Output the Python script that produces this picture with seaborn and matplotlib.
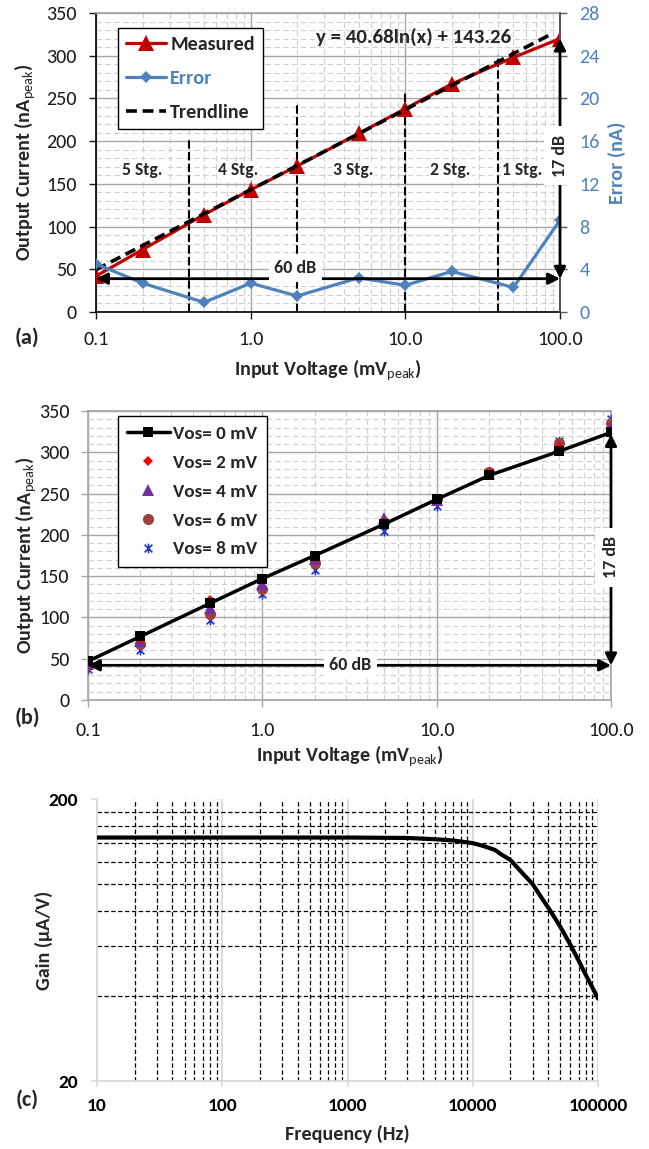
import matplotlib
matplotlib.use("Agg")
import matplotlib.pyplot as plt
from matplotlib.path import Path
from matplotlib.ticker import FixedLocator, LogLocator, MultipleLocator, NullFormatter
from matplotlib.lines import Line2D
import seaborn as sns

# ---- (a) measured output current / error vs input voltage ----
vin = [0.1, 0.2, 0.5, 1, 2, 5, 10, 20, 50, 100]
measured = [42, 73, 114, 143, 171, 209, 238, 267, 298, 320]
error = [4.5, 2.7, 0.9, 2.7, 1.5, 3.2, 2.5, 3.8, 2.3, 8.6]
trend_x = [0.1, 90]
trend_y = [49.6, 326.3]
stage_x = [0.4, 2, 10, 40]
stage_top = [201, 244, 257, 301]
stage_labels = ["5 Stg.", "4 Stg.", "3 Stg.", "2 Stg.", "1 Stg."]
stage_label_x = [0.2, 0.83, 4.6, 19.5, 57]

# ---- (b) output current for several offset voltages ----
vos_labels = ["Vos= 0 mV", "Vos= 2 mV", "Vos= 4 mV", "Vos= 6 mV", "Vos= 8 mV"]
vos0 = [47, 77, 117, 147, 175, 213, 243, 272, 301, 324]
vos2 = [45, 74, 121, 145, 172, 216, 244, 275, 306, 326]
vos4 = [44, 72, 112, 141, 171, 220, 242, 274, 308, 330]
vos6 = [42, 68, 104, 135, 166, 215, 243, 276, 311, 336]
vos8 = [37, 60, 97, 128, 158, 205, 235, 276, 314, 340]

# ---- (c) frequency response ----
freq = [10, 100, 1000, 3000, 5000, 7000, 10000, 12000, 15000, 17000, 20000,
        25000, 30000, 35000, 40000, 50000, 60000, 70000, 80000, 90000, 100000]
gain = [146, 146, 146, 145.5, 144, 142.5, 139.5, 136.5, 132, 127, 121.5,
        109, 100, 90, 82.5, 70.5, 61, 53.5, 47.5, 43, 39.2]

x_ticks = [0.1, 1, 10, 100]
x_ticklabels = ["0.1", "1.0", "10.0", "100.0"]
f_ticks = [10, 100, 1000, 10000, 100000]
f_ticklabels = ["10", "100", "1000", "10000", "100000"]

sns.set_theme(style="white")
plt.rcParams["font.family"] = ["Carlito", "Lato", "DejaVu Sans"]
plt.rcParams["mathtext.fontset"] = "custom"
plt.rcParams["mathtext.rm"] = "Carlito"
plt.rcParams["mathtext.bf"] = "Carlito:bold"

BLUE = "#4F81BD"
DARKRED = "#C00000"
GRID_MAJOR = "#A6A6A6"
GRID_MINOR = "#CFCFCF"
TICK_FS = 14.5
LABEL_FS = 14.5

W, H = 649, 1149
fig = plt.figure(figsize=(W / 100, H / 100), dpi=100)


def px_axes(left, right, top, bottom):
    return fig.add_axes([left / W, 1 - bottom / H, (right - left) / W, (bottom - top) / H])


ax_a = px_axes(96, 560, 13, 312)
ax_b = px_axes(88, 611, 411, 700)
ax_c = px_axes(97, 598, 799, 1081)


def excel_grid(ax):
    ax.set_xscale("log")
    ax.set_xlim(0.1, 100)
    ax.set_ylim(0, 350)
    ax.set_xticks(x_ticks)
    ax.set_xticklabels(x_ticklabels)
    ax.set_yticks(range(0, 351, 50))
    ax.xaxis.set_minor_locator(LogLocator(base=10, subs=range(2, 10)))
    ax.xaxis.set_minor_formatter(NullFormatter())
    ax.yaxis.set_minor_locator(MultipleLocator(10))
    ax.grid(which="major", color=GRID_MAJOR, lw=1, ls="-")
    ax.grid(which="minor", color=GRID_MINOR, lw=0.8, ls=(0, (5, 3)))
    ax.set_axisbelow(True)
    ax.tick_params(which="minor", length=0)
    ax.tick_params(which="major", direction="out", length=5, width=1,
                   labelsize=TICK_FS, colors="#1a1a1a", left=True, bottom=True)


def double_arrow(target, data_ax, start, end):
    # drawn on `target` but placed in the data coordinates of `data_ax`
    target.annotate("", xy=end, xytext=start, xycoords=data_ax.transData,
                    textcoords=data_ax.transData,
                    arrowprops=dict(arrowstyle="<|-|>", color="black", lw=2,
                                    mutation_scale=17, shrinkA=0, shrinkB=0),
                    zorder=6)


def boxed(target, data_ax, x, y, s, rotation=0, pad=3):
    target.text(x, y, s, transform=data_ax.transData, ha="center", va="center",
                fontsize=13, fontweight="bold", rotation=rotation, zorder=7,
                bbox=dict(facecolor="white", edgecolor="none", pad=pad))


# ================= (a) =================
ax = ax_a
excel_grid(ax)
ax.tick_params(axis="x", pad=8.5)
ax.tick_params(axis="y", pad=9)
for sp in ["left", "bottom"]:
    ax.spines[sp].set_color("black")
    ax.spines[sp].set_linewidth(1.2)
ax.spines["top"].set_color(GRID_MAJOR)

ax2 = ax.twinx()
ax2.set_ylim(0, 28)
ax2.set_yticks(range(0, 29, 4))
ax2.tick_params(axis="y", direction="out", length=5, width=1, labelsize=TICK_FS,
                colors=BLUE, pad=9, right=True)
ax2.tick_params(axis="y", color="#595959")
ax2.spines["right"].set_color("#595959")
for sp in ["left", "bottom", "top"]:
    ax2.spines[sp].set_visible(False)

for x0, top in zip(stage_x, stage_top):
    ax.vlines(x0, 0, top, colors="black", lw=1.5, linestyles=(0, (4, 1.6)), zorder=2)
for lx, lab in zip(stage_label_x, stage_labels):
    ax.text(lx, 166, lab, ha="center", va="center", fontsize=12.7,
            fontweight="bold", zorder=3,
            bbox=dict(facecolor="white", edgecolor="none", pad=1))

sns.lineplot(x=trend_x, y=trend_y, ax=ax, color="black", lw=2.6,
             linestyle=(0, (3, 1.6)), label="Trendline", legend=False, zorder=5)
sns.lineplot(x=vin, y=measured, ax=ax, color=DARKRED, lw=2.3, marker="^",
             markersize=11, markeredgecolor=DARKRED, markeredgewidth=0,
             label="Measured", legend=False, zorder=4)
sns.lineplot(x=vin, y=error, ax=ax2, color=BLUE, lw=2.3, marker="D",
             markersize=6, markeredgecolor=BLUE, markeredgewidth=0,
             label="Error", legend=False, zorder=4)

# arrows and their labels go on the twin axes so they sit above its right spine
double_arrow(ax2, ax, (0.1, 39), (100, 39))
double_arrow(ax2, ax, (100, 39), (100, 320))
boxed(ax2, ax, 1.95, 51, "60 dB", pad=4)
boxed(ax2, ax, 100, 183, "17 dB", rotation=90, pad=6)
ax.text(11.3, 322, "y = 40.68ln(x) + 143.26", ha="center", va="center",
        fontsize=15, fontweight="bold", zorder=7)

handles = [Line2D([], [], color=DARKRED, lw=2.3, marker="^", markersize=11, mew=0),
           Line2D([], [], color=BLUE, lw=2.3, marker="D", markersize=6, mew=0),
           Line2D([], [], color="black", lw=2.6, ls=(0, (3, 1.6)))]
leg = ax2.legend(handles, ["Measured", "Error", "Trendline"], loc="upper left",
                 bbox_to_anchor=(0.047, 0.950), borderaxespad=0, frameon=True,
                 fancybox=False, framealpha=1, edgecolor="black",
                 handlelength=2.0, labelspacing=0.83, borderpad=0.4,
                 handletextpad=0.2, prop=dict(size=14.5, weight="bold"))
leg.get_frame().set_linewidth(1)
leg.get_texts()[1].set_color(BLUE)

ax.set_xlabel(r"Input Voltage (mV$_\mathrm{peak}$)", fontsize=LABEL_FS, fontweight="bold")
ax.set_ylabel(r"Output Current (nA$_\mathrm{peak}$)", fontsize=LABEL_FS, fontweight="bold")
ax2.set_ylabel("Error (nA)", fontsize=LABEL_FS, fontweight="bold", color=BLUE)
ax.xaxis.set_label_coords(0.5, -0.154)
ax.yaxis.set_label_coords(-0.126, 0.5)
ax2.yaxis.set_label_coords(1.103, 0.5)

# ================= (b) =================
ax = ax_b
excel_grid(ax)
for sp in ax.spines.values():
    sp.set_color(GRID_MAJOR)
ax.tick_params(which="major", color=GRID_MAJOR, labelcolor="#1a1a1a")
ax.tick_params(axis="x", pad=11)
ax.tick_params(axis="y", pad=8.5)

star = Path([(-1, -1), (1, 1), (-1, 1), (1, -1), (0, -1.25), (0, 1.25)],
            [Path.MOVETO, Path.LINETO] * 3)
series_b = [vos0, vos2, vos4, vos6, vos8]
styles_b = [
    dict(color="black", marker="s", markersize=6.5, linestyle="-", lw=2.5,
         markeredgecolor="black", markeredgewidth=0),
    dict(color="#FF0000", marker="D", markersize=5.5, linestyle="none",
         markeredgecolor="#FF0000", markeredgewidth=0),
    dict(color="#7030A0", marker="^", markersize=8, linestyle="none",
         markeredgecolor="#7030A0", markeredgewidth=0),
    dict(color="#A0403C", marker="o", markersize=8, linestyle="none",
         markeredgecolor="#A0403C", markeredgewidth=0),
    dict(color="#2036C8", marker=star, markersize=7, linestyle="none",
         markeredgecolor="#2036C8", markeredgewidth=1.2),
]
for vals, lab, st in zip(series_b[::-1], vos_labels[::-1], styles_b[::-1]):
    sns.lineplot(x=vin, y=vals, ax=ax, label=lab, legend=False, zorder=4, **st)
handles = [Line2D([], [], **st) for st in styles_b]

double_arrow(ax, ax, (0.1, 42), (100, 42))
double_arrow(ax, ax, (100, 42), (100, 322))
boxed(ax, ax, 3.2, 42, "60 dB", pad=4)
boxed(ax, ax, 100, 173, "17 dB", rotation=90, pad=6)

leg = ax.legend(handles, vos_labels, loc="upper left",
                bbox_to_anchor=(0.057, 0.983), borderaxespad=0, frameon=True,
                fancybox=False, framealpha=1, edgecolor="black",
                handlelength=2.2, labelspacing=0.65, borderpad=0.5,
                handletextpad=0.2, prop=dict(size=13.8, weight="bold"))
leg.get_frame().set_linewidth(1)
leg.set_zorder(8)

ax.set_xlabel(r"Input Voltage (mV$_\mathrm{peak}$)", fontsize=LABEL_FS, fontweight="bold")
ax.set_ylabel(r"Output Current (nA$_\mathrm{peak}$)", fontsize=LABEL_FS, fontweight="bold")
ax.xaxis.set_label_coords(0.5, -0.150)
ax.yaxis.set_label_coords(-0.093, 0.5)

# ================= (c) =================
ax = ax_c
ax.set_xscale("log")
ax.set_yscale("log")
ax.set_xlim(10, 100000)
ax.set_ylim(20, 200)
ax.set_xticks(f_ticks)
ax.set_xticklabels(f_ticklabels)
ax.set_yticks([20, 200])
ax.set_yticklabels(["20", "200"])
ax.xaxis.set_minor_locator(LogLocator(base=10, subs=range(2, 10)))
ax.xaxis.set_minor_formatter(NullFormatter())
ax.yaxis.set_minor_locator(FixedLocator(range(40, 200, 20)))
ax.yaxis.set_minor_formatter(NullFormatter())
ax.grid(which="major", axis="x", color="#D9D9D9", lw=1.3, ls="-")
ax.grid(which="minor", axis="both", color="black", lw=0.9, ls=(0, (3.5, 2)))
ax.set_axisbelow(True)
for sp in ["top", "right"]:
    ax.spines[sp].set_visible(False)
for sp in ["left", "bottom"]:
    ax.spines[sp].set_color("#D9D9D9")
    ax.spines[sp].set_linewidth(1.3)
ax.tick_params(which="minor", length=0)
ax.tick_params(which="major", direction="out", length=4.5, width=1.2,
               color="#D9D9D9", labelcolor="black", labelsize=14,
               left=True, bottom=True)
ax.tick_params(axis="x", pad=8)
ax.tick_params(axis="y", pad=9)
for t in ax.get_xticklabels() + ax.get_yticklabels():
    t.set_fontweight("bold")

sns.lineplot(x=freq, y=gain, ax=ax, color="black", lw=3, legend=False, zorder=4)

ax.set_xlabel("Frequency (Hz)", fontsize=LABEL_FS, fontweight="bold")
ax.set_ylabel("Gain (µA/V)", fontsize=LABEL_FS, fontweight="bold")
ax.xaxis.set_label_coords(0.5, -0.156)
ax.yaxis.set_label_coords(-0.088, 0.5)

# panel letters
for lab, ypx in [("(a)", 338), ("(b)", 718), ("(c)", 1100)]:
    fig.text(27 / W, 1 - ypx / H, lab, ha="center", va="center",
             fontsize=16, fontweight="bold")

fig.savefig("out.png", dpi=100)
